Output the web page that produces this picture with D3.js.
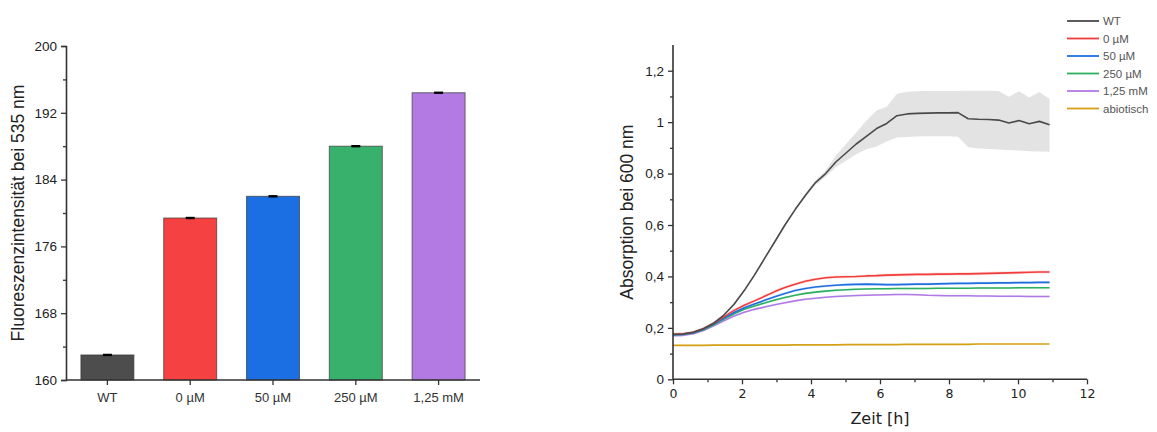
<!DOCTYPE html>
<html>
<head>
<meta charset="utf-8">
<script src="https://cdn.jsdelivr.net/npm/d3@7"></script>
<style>
  html, body { margin: 0; padding: 0; background: #fff; }
  svg { display: block; font-family: "Liberation Sans", Arial, sans-serif; }
</style>
</head>
<body>
<svg id="chart" width="1157" height="432"></svg>
<script>
// ---------- Fluorescence bar chart ----------
const barCategories = ["WT", "0 µM", "50 µM", "250 µM", "1,25 mM"];
const barValues = [163.0, 179.4, 182.0, 188.0, 194.4];
const barErrors = [0.1, 0.1, 0.1, 0.1, 0.1];
const barColors = ["#4d4d4d", "#f54141", "#1b6fe2", "#37b16c", "#b27ae2"];
const barTicks = [160, 168, 176, 184, 192, 200];

// ---------- Growth curves (OD600) ----------
const timeHours = [0, 0.295, 0.59, 0.885, 1.18, 1.475, 1.77, 2.065, 2.36, 2.655,
  2.95, 3.245, 3.54, 3.835, 4.13, 4.425, 4.72, 5.015, 5.31, 5.605,
  5.9, 6.195, 6.49, 6.785, 7.08, 7.375, 7.67, 7.965, 8.26, 8.555,
  8.85, 9.145, 9.44, 9.735, 10.03, 10.325, 10.62, 10.915];

const odWT = [0.175, 0.176, 0.183, 0.197, 0.218, 0.250, 0.292, 0.345, 0.405, 0.470,
  0.535, 0.600, 0.660, 0.715, 0.765, 0.800, 0.845, 0.880, 0.915, 0.945,
  0.975, 0.995, 1.025, 1.032, 1.034, 1.035, 1.036, 1.036, 1.037, 1.013,
  1.011, 1.010, 1.008, 0.997, 1.006, 0.994, 1.003, 0.990];
const odWTUpper = [0.180, 0.181, 0.188, 0.202, 0.223, 0.255, 0.297, 0.350, 0.410, 0.475,
  0.540, 0.605, 0.665, 0.721, 0.773, 0.812, 0.870, 0.915, 0.960, 1.005,
  1.045, 1.060, 1.110, 1.118, 1.120, 1.121, 1.121, 1.121, 1.121, 1.122,
  1.122, 1.122, 1.121, 1.099, 1.120, 1.096, 1.117, 1.091];
const odWTLower = [0.170, 0.171, 0.178, 0.192, 0.213, 0.245, 0.287, 0.340, 0.400, 0.465,
  0.530, 0.595, 0.655, 0.709, 0.757, 0.788, 0.825, 0.850, 0.875, 0.895,
  0.905, 0.925, 0.940, 0.942, 0.944, 0.945, 0.945, 0.945, 0.943, 0.902,
  0.898, 0.896, 0.894, 0.892, 0.890, 0.887, 0.886, 0.885];

const od0uM = [0.175, 0.177, 0.183, 0.197, 0.218, 0.243, 0.268, 0.288, 0.305, 0.323,
  0.341, 0.357, 0.370, 0.381, 0.389, 0.395, 0.398, 0.399, 0.400, 0.402,
  0.403, 0.405, 0.406, 0.407, 0.408, 0.408, 0.409, 0.409, 0.410, 0.410,
  0.411, 0.412, 0.413, 0.414, 0.415, 0.416, 0.417, 0.417];
const od50uM = [0.173, 0.175, 0.181, 0.195, 0.215, 0.238, 0.260, 0.278, 0.293, 0.307,
  0.321, 0.334, 0.345, 0.353, 0.359, 0.363, 0.366, 0.368, 0.369, 0.370,
  0.369, 0.368, 0.368, 0.369, 0.370, 0.370, 0.371, 0.372, 0.373, 0.373,
  0.374, 0.374, 0.375, 0.375, 0.376, 0.376, 0.377, 0.377];
const od250uM = [0.172, 0.174, 0.180, 0.193, 0.212, 0.234, 0.255, 0.272, 0.285, 0.297,
  0.308, 0.318, 0.327, 0.334, 0.339, 0.343, 0.346, 0.348, 0.350, 0.351,
  0.352, 0.352, 0.353, 0.353, 0.353, 0.353, 0.354, 0.354, 0.354, 0.354,
  0.355, 0.355, 0.355, 0.355, 0.356, 0.356, 0.356, 0.356];
const od125mM = [0.170, 0.171, 0.177, 0.190, 0.208, 0.228, 0.246, 0.261, 0.272, 0.281,
  0.290, 0.298, 0.305, 0.311, 0.315, 0.319, 0.322, 0.324, 0.326, 0.327,
  0.328, 0.329, 0.330, 0.330, 0.329, 0.327, 0.326, 0.325, 0.325, 0.325,
  0.324, 0.324, 0.323, 0.323, 0.323, 0.322, 0.322, 0.322];
const odAbiotic = [0.132, 0.132, 0.132, 0.132, 0.133, 0.133, 0.133, 0.133, 0.133, 0.133,
  0.133, 0.133, 0.134, 0.134, 0.134, 0.134, 0.134, 0.135, 0.135, 0.135,
  0.135, 0.135, 0.135, 0.136, 0.136, 0.136, 0.136, 0.136, 0.136, 0.136,
  0.137, 0.137, 0.137, 0.137, 0.137, 0.137, 0.137, 0.137];

const curveNames = ["WT", "0 µM", "50 µM", "250 µM", "1,25 mM", "abiotisch"];
const curveColors = ["#4a4a4a", "#f03c3c", "#1f6fe0", "#2bb060", "#b07ae6", "#d4a017"];
const curveSpread = [null, 0.006, 0.005, 0.004, 0.004, 0.002];
const odTicks = [0, 0.2, 0.4, 0.6, 0.8, 1, 1.2];
const timeTicks = [0, 2, 4, 6, 8, 10, 12];

const svg = d3.select("#chart");
const axisColor = "#333";
const fmtComma = d => d3.format("~g")(d).replace(".", ",");

function styleAxis(g) {
  g.select(".domain").attr("stroke", axisColor).attr("stroke-width", 1.6);
  g.selectAll(".tick line").attr("stroke", axisColor).attr("stroke-width", 1.3);
  g.selectAll(".tick text").attr("fill", "#222");
}

// ===== Left panel =====
{
  const x0 = 66, x1 = 480, y0 = 380, y1 = 46;
  const x = d3.scaleBand().domain(barCategories).range([x0, x1]).paddingInner(0.36).paddingOuter(0.18);
  const y = d3.scaleLinear().domain([160, 200]).range([y0, y1]);

  const g = svg.append("g");

  g.selectAll("rect.bar").data(barValues).enter().append("rect")
    .attr("class", "bar")
    .attr("x", (d, i) => x(barCategories[i]))
    .attr("width", x.bandwidth())
    .attr("y", d => y(d))
    .attr("height", d => y(160) - y(d))
    .attr("fill", (d, i) => barColors[i])
    .attr("stroke", "#3a3a3a")
    .attr("stroke-opacity", 0.7)
    .attr("stroke-width", 1);

  // error bars
  const eb = g.selectAll("g.err").data(barValues).enter().append("g").attr("class", "err");
  eb.append("line")
    .attr("x1", (d, i) => x(barCategories[i]) + x.bandwidth() / 2)
    .attr("x2", (d, i) => x(barCategories[i]) + x.bandwidth() / 2)
    .attr("y1", (d, i) => y(d + barErrors[i]))
    .attr("y2", (d, i) => y(d - barErrors[i]))
    .attr("stroke", "#000").attr("stroke-width", 1.2);
  eb.append("line")
    .attr("x1", (d, i) => x(barCategories[i]) + x.bandwidth() / 2 - 4.5)
    .attr("x2", (d, i) => x(barCategories[i]) + x.bandwidth() / 2 + 4.5)
    .attr("y1", (d, i) => y(d))
    .attr("y2", (d, i) => y(d))
    .attr("stroke", "#000").attr("stroke-width", 2.4);

  const yAxis = d3.axisLeft(y).tickValues(d3.range(160, 200.1, 4)).tickSize(5).tickPadding(4)
    .tickFormat(d => barTicks.includes(d) ? d : "");
  const ga = g.append("g").attr("transform", `translate(${x0},0)`).call(yAxis);
  styleAxis(ga);
  ga.selectAll(".tick").filter(d => !barTicks.includes(d)).select("line").attr("x2", -3);
  ga.selectAll(".tick text").attr("font-size", 13.5);

  const xAxis = d3.axisBottom(x).tickSize(5).tickPadding(8);
  const gx = g.append("g").attr("transform", `translate(0,${y0})`).call(xAxis);
  styleAxis(gx);
  gx.select(".domain").attr("d", `M${x0},0H${x1}`);
  gx.selectAll(".tick text").attr("font-size", 13).attr("fill", "#333");

  g.append("text")
    .attr("transform", `translate(24,${(y0 + y1) / 2}) rotate(-90)`)
    .attr("text-anchor", "middle")
    .attr("font-size", 17.5)
    .attr("fill", "#222")
    .text("Fluoreszenzintensität bei 535 nm");
}

// ===== Right panel =====
{
  const x0 = 673, x1 = 1087, y0 = 379.3, y1 = 45;
  const x = d3.scaleLinear().domain([0, 12]).range([x0, x1]);
  const y = d3.scaleLinear().domain([0, 1.3]).range([y0, y1]);
  const g = svg.append("g");

  const series = [odWT, od0uM, od50uM, od250uM, od125mM, odAbiotic];

  // WT spread band
  const area = d3.area()
    .x((d, i) => x(timeHours[i]))
    .y0((d, i) => y(odWTLower[i]))
    .y1((d, i) => y(odWTUpper[i]));
  g.append("path").datum(odWT).attr("d", area).attr("fill", "#d9d9d9").attr("fill-opacity", 0.75);

  // faint bands of the other series
  series.forEach((s, k) => {
    if (curveSpread[k] == null) return;
    const a = d3.area()
      .x((d, i) => x(timeHours[i]))
      .y0(d => y(d - curveSpread[k]))
      .y1(d => y(d + curveSpread[k]));
    g.append("path").datum(s).attr("d", a).attr("fill", curveColors[k]).attr("fill-opacity", 0.15);
  });

  const line = d3.line().x((d, i) => x(timeHours[i])).y(d => y(d));
  // draw order so WT stays on top near the start
  [5, 4, 3, 2, 1, 0].forEach(k => {
    g.append("path").datum(series[k]).attr("d", line)
      .attr("fill", "none").attr("stroke", curveColors[k])
      .attr("stroke-width", 1.6).attr("stroke-linejoin", "round");
  });

  const yAxis = d3.axisLeft(y).tickValues(d3.range(0, 13).map(v => v / 10)).tickSize(5).tickPadding(4)
    .tickFormat(d => odTicks.some(t => Math.abs(t - d) < 1e-9) ? fmtComma(d) : "");
  const ga = g.append("g").attr("transform", `translate(${x0},0)`).call(yAxis);
  styleAxis(ga);
  ga.selectAll(".tick").filter(d => !odTicks.some(t => Math.abs(t - d) < 1e-9)).select("line").attr("x2", -3);
  ga.select(".domain").attr("d", `M0,${y0}V${y1}`);
  ga.selectAll(".tick text").attr("font-size", 13.5);

  const xAxis = d3.axisBottom(x).tickValues(d3.range(0, 13)).tickSize(5).tickPadding(5)
    .tickFormat(d => timeTicks.includes(d) ? d : "");
  const gx = g.append("g").attr("transform", `translate(0,${y0})`).call(xAxis);
  styleAxis(gx);
  gx.selectAll(".tick").filter(d => !timeTicks.includes(d)).select("line").attr("y2", 3);
  gx.select(".domain").attr("d", `M${x0},0H${x1}`);
  gx.selectAll(".tick text").attr("font-size", 13.5).attr("font-family", "'DejaVu Sans', sans-serif").attr("font-size", 12.5);

  g.append("text")
    .attr("transform", `translate(633,${(y0 + y1) / 2}) rotate(-90)`)
    .attr("text-anchor", "middle")
    .attr("font-size", 17.5)
    .attr("fill", "#222")
    .text("Absorption bei 600 nm");

  g.append("text")
    .attr("x", (x0 + x1) / 2)
    .attr("y", 424)
    .attr("text-anchor", "middle")
    .attr("font-family", "'DejaVu Sans', sans-serif")
    .attr("font-size", 16)
    .attr("fill", "#222")
    .text("Zeit [h]");

  // legend
  const lg = g.append("g");
  curveNames.forEach((name, k) => {
    const yy = 21 + k * 17.5;
    lg.append("line").attr("x1", 1067).attr("x2", 1099).attr("y1", yy).attr("y2", yy)
      .attr("stroke", curveColors[k]).attr("stroke-width", 1.8);
    lg.append("text").attr("x", 1103).attr("y", yy + 4)
      .attr("font-size", 11.5).attr("fill", "#555").text(name);
  });
}
</script>
</body>
</html>
